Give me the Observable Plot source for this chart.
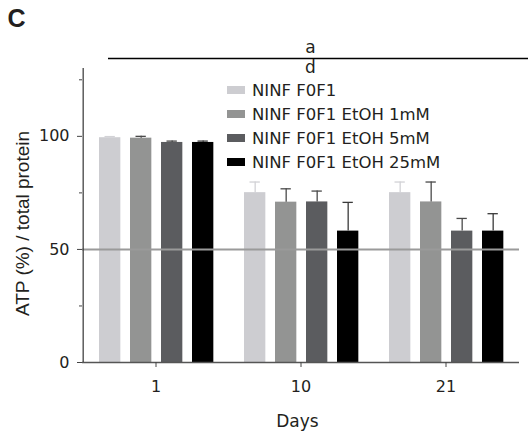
<!DOCTYPE html>
<html><head><meta charset="utf-8">
<script src="https://cdn.jsdelivr.net/npm/d3@7"></script>
<script src="https://cdn.jsdelivr.net/npm/@observablehq/plot@0.6"></script>
<style>
body{margin:0;background:#fff;}
#wrap{position:relative;width:528px;height:437px;}
#legend{position:absolute;left:227px;top:78px;font-family:"DejaVu Sans";font-size:16.5px;color:#231f20;}
.row{display:flex;align-items:center;height:24px;white-space:nowrap;}
.sw{width:18px;height:8px;margin-right:7px;}
</style></head><body><div id="wrap"></div>
<script>
const days = ["1", "10", "21"];
const series = ["NINF F0F1", "NINF F0F1 EtOH 1mM", "NINF F0F1 EtOH 5mM", "NINF F0F1 EtOH 25mM"];
const ninf     = [99.4, 75.1, 75.1];
const etoh1mM  = [99.2, 70.9, 71.0];
const etoh5mM  = [97.3, 71.0, 58.1];
const etoh25mM = [97.3, 58.1, 58.1];
const errNinf     = [0.5, 4.7, 4.7];
const err1mM      = [0.8, 5.9, 8.8];
const err5mM      = [0.6, 4.8, 5.6];
const err25mM     = [0.6, 12.7, 7.7];
const yTicks = [0, 50, 100];
const yMinorTicks = [25, 75, 125];
const refLine = 50;
const colors = ["#cdcdd1", "#939493", "#5b5c5f", "#000000"];
const errColors = ["#d2d2d6", "#4a4a4a", "#4a4a4a", "#3a3a3a"];

const values = [ninf, etoh1mM, etoh5mM, etoh25mM];
const errors = [errNinf, err1mM, err5mM, err25mM];
const rows = series.map((s, i) => days.map((d, j) => ({series: s, day: d, value: values[i][j], err: errors[i][j]})));

const W = 528, H = 437, mL = 82, mR = 9, mT = 68, mB = 75;
const bw = (W - mL - mR) / days.length;
const barW = 22, step = 31, first = 16;

const marks = [];
rows.forEach((r, i) => {
  const off = first + step * i;
  marks.push(Plot.barY(r, {x: "day", y: "value", fill: colors[i], insetLeft: off, insetRight: bw - off - barW}));
});
marks.push(Plot.ruleY([refLine], {stroke: "#9a9a9a", strokeWidth: 2}));
rows.forEach((r, i) => {
  const off = first + step * i;
  marks.push(Plot.ruleX(r, {x: "day", y1: "value", y2: d => d.value + d.err, stroke: errColors[i], strokeWidth: 1.3, dx: off + barW / 2 - bw / 2}));
  marks.push(Plot.tickY(r, {x: "day", y: d => d.value + d.err, stroke: errColors[i], strokeWidth: 1.3, insetLeft: off + 5.5, insetRight: bw - off - barW + 5.5}));
});
marks.push(
  Plot.ruleY([0], {stroke: "#555", strokeWidth: 1.4}),
  Plot.ruleX([days[0]], {y1: 0, y2: 130, dx: -bw / 2, stroke: "#333", strokeWidth: 1.2}),
  Plot.axisY({ticks: yTicks, tickSize: 5, tickPadding: 8, fontSize: 16, label: null, stroke: "#444"}),
  Plot.axisY({ticks: yMinorTicks, tickSize: 3, tickFormat: () => "", label: null, stroke: "#444"}),
  Plot.axisX({tickSize: 5, tickPadding: 13, fontSize: 16, label: null, stroke: "#444"}),
  Plot.text(["ATP (%) / total protein"], {text: d => d, frameAnchor: "left", rotate: -90, dx: -60, dy: 8, fontSize: 19, fontFamily: "Liberation Sans", lineAnchor: "middle", textAnchor: "middle"}),
  Plot.text(["Days"], {text: d => d, frameAnchor: "bottom", dx: -3.5, dy: 59, fontSize: 17, lineAnchor: "middle"}),
  Plot.text(["C"], {text: d => d, frameAnchor: "top-left", dx: -75, dy: -42, fontSize: 25, fontWeight: "bold", fontFamily: "Liberation Sans", textAnchor: "start", lineAnchor: "bottom", fill: "#231f20"}),
  Plot.ruleY([130], {dy: -10, insetLeft: 26, insetRight: -9, stroke: "#000", strokeWidth: 1.3}),
  Plot.text(["a"], {text: d => d, frameAnchor: "top", dx: 9.5, dy: -16, fontSize: 17, lineAnchor: "bottom"}),
  Plot.text(["d"], {text: d => d, frameAnchor: "top", dx: 9.5, dy: 4.5, fontSize: 17, lineAnchor: "bottom"})
);

const chart = Plot.plot({
  width: W, height: H,
  marginLeft: mL, marginRight: mR, marginTop: mT, marginBottom: mB,
  style: {fontFamily: "DejaVu Sans", color: "#231f20", background: "#fff", overflow: "visible"},
  x: {domain: days, padding: 0},
  y: {domain: [0, 130]},
  marks
});
const wrap = document.getElementById("wrap");
wrap.appendChild(chart);

const legend = document.createElement("div");
legend.id = "legend";
series.forEach((s, i) => {
  const row = document.createElement("div");
  row.className = "row";
  const sw = document.createElement("div");
  sw.className = "sw";
  sw.style.background = colors[i];
  const t = document.createElement("span");
  t.textContent = s;
  row.appendChild(sw); row.appendChild(t);
  legend.appendChild(row);
});
wrap.appendChild(legend);
</script></body></html>
